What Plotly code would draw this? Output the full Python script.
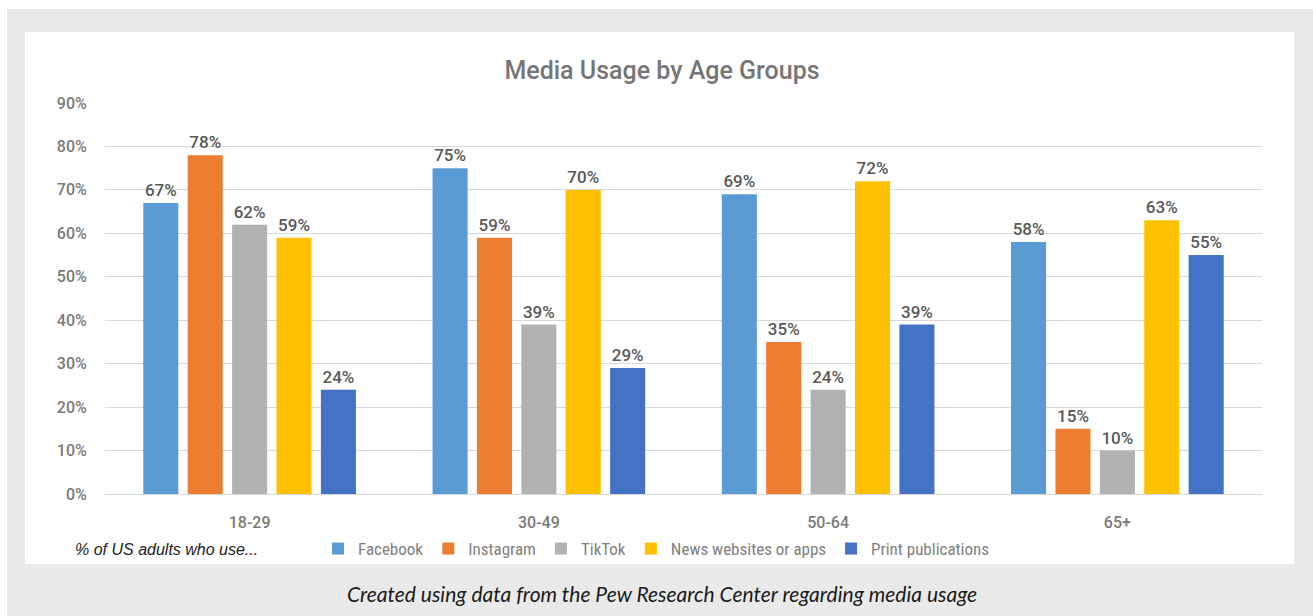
import plotly.graph_objects as go

# ---- data ----
age_groups = ["18-29", "30-49", "50-64", "65+"]
facebook = [67, 75, 69, 58]
instagram = [78, 59, 35, 15]
tiktok = [62, 39, 24, 10]
news_sites = [59, 70, 72, 63]
print_pubs = [24, 29, 39, 55]

series_names = ["Facebook", "Instagram", "TikTok", "News websites or apps", "Print publications"]
series_values = [facebook, instagram, tiktok, news_sites, print_pubs]
series_colors = ["#5B9BD5", "#ED7D31", "#B1B2B4", "#FFC000", "#4472C4"]

y_ticks = [0, 10, 20, 30, 40, 50, 60, 70, 80, 90]
y_tick_labels = [f"{v}%" for v in y_ticks]

# ---- layout geometry (pixels) ----
W, H = 1313, 616
L, R, T, B = 105, 1262, 103, 494  # plot area in pixels


def px_x(px):
    return (px - L) / (R - L)


def px_y(py):
    return (B - py) / (B - T)


fig = go.Figure()
for name, vals, col in zip(series_names, series_values, series_colors):
    fig.add_trace(go.Bar(
        x=age_groups, y=vals, name=name,
        marker=dict(color=col, line=dict(width=0)),
        text=[f"{v}%" for v in vals],
        textposition="outside",
        constraintext="none",
        cliponaxis=False,
        textfont=dict(family="Roboto, Arial, sans-serif", size=17, color="#595959", weight=500),
        hoverinfo="x+y+name",
    ))

fig.update_layout(
    width=W, height=H,
    margin=dict(l=L, r=W - R, t=T, b=H - B, pad=0),
    paper_bgcolor="white",
    plot_bgcolor="white",
    barmode="group",
    bargap=0.2325,
    bargroupgap=0.21,
    font=dict(family="Liberation Sans, Arial, sans-serif", color="#7F7F7F"),
    title=dict(
        text="Media Usage by Age Groups",
        font=dict(family="Roboto, Arial, sans-serif", size=25, color="#767676", weight=500),
        x=662 / W, xanchor="center", xref="container",
        y=1 - 70 / H, yanchor="middle", yref="container",
    ),
    xaxis=dict(
        showgrid=False, showline=False, zeroline=False,
        tickfont=dict(family="Roboto, Arial, sans-serif", size=16, color="#7A7A7A", weight=500),
        ticks="outside", ticklen=14, tickcolor="rgba(0,0,0,0)",
    ),
    yaxis=dict(
        range=[0, 90], tickmode="array", tickvals=y_ticks, ticktext=y_tick_labels,
        showgrid=True, gridcolor="#D9D9D9", gridwidth=1,
        zeroline=True, zerolinecolor="#D9D9D9", zerolinewidth=1,
        showline=False,
        tickfont=dict(family="Roboto, Arial, sans-serif", size=16, color="#7A7A7A", weight=500),
        ticks="outside", ticklen=14, tickcolor="rgba(0,0,0,0)",
    ),
    legend=dict(
        orientation="h",
        x=px_x(318), xanchor="left",
        y=px_y(549), yanchor="middle",
        font=dict(family="Liberation Sans Narrow, Roboto Condensed, Liberation Sans, Arial, sans-serif",
                  size=17, color="#808080"),
        bgcolor="rgba(0,0,0,0)",
        itemwidth=30,
        traceorder="normal",
    ),
    showlegend=True,
)

# background panels
fig.add_shape(type="rect", xref="paper", yref="paper",
              x0=px_x(7), x1=px_x(W + 20), y0=px_y(H + 20), y1=px_y(9),
              fillcolor="#EAEAEA", line=dict(width=0), layer="below")
fig.add_shape(type="rect", xref="paper", yref="paper",
              x0=px_x(25), x1=px_x(1294), y0=px_y(564), y1=px_y(32),
              fillcolor="white", line=dict(width=0), layer="below")

# legend lead-in text
fig.add_annotation(
    text="<i>% of US adults who use...</i>",
    xref="paper", yref="paper", x=px_x(73), y=px_y(549),
    xanchor="left", yanchor="middle", showarrow=False,
    font=dict(family="Liberation Sans, Arial, sans-serif", size=16, color="#222222"),
)

# caption
fig.add_annotation(
    text="<i>Created using data from the Pew Research Center regarding media usage</i>",
    xref="paper", yref="paper", x=px_x(662), y=px_y(593),
    xanchor="center", yanchor="middle", showarrow=False,
    font=dict(family="Lato, sans-serif", size=21, color="#1A1A1A"),
)

fig.write_html("out.html")
